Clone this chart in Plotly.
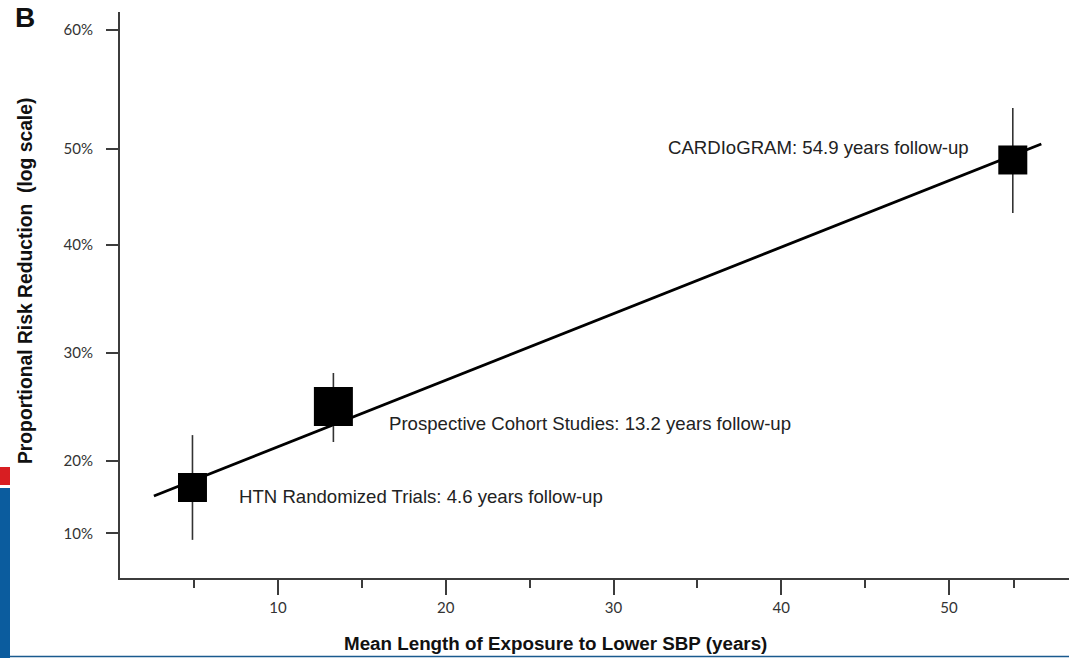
import plotly.graph_objects as go

# ---- data ----
studies = ["HTN Randomized Trials", "Prospective Cohort Studies", "CARDIoGRAM"]
follow_up_label = ["4.6", "13.2", "54.9"]
exposure_years = [4.9, 13.3, 53.8]          # x position of squares
risk_reduction = [17.55, 25.05, 47.87]      # y (axis units)
ci_low = [12.7, 21.76, 42.96]
ci_high = [22.4, 28.15, 52.69]
marker_sizes = [29, 39, 29]

fit_x = [2.6, 55.5]
fit_y = [16.76, 49.35]

y_tick_pos = [13.3, 20, 30, 40, 48.9, 59.9]
y_tick_text = ["10%", "20%", "30%", "40%", "50%", "60%"]
x_tick_vals = [10, 20, 30, 40, 50]
x_minor_vals = [5, 15, 25, 35, 45, 53.9]

label_x = [7.55, 16.5, 33.1]
label_y = [16.76, 23.5, 48.98]

AX = "#3c3c3c"

fig = go.Figure()

fig.add_trace(go.Scatter(
    x=fit_x, y=fit_y, mode="lines",
    line=dict(color="black", width=2.8), hoverinfo="skip", showlegend=False))

fig.add_trace(go.Scatter(
    x=exposure_years, y=risk_reduction, mode="markers",
    marker=dict(symbol="square", size=marker_sizes, color="black", opacity=1,
                line=dict(width=0)),
    error_y=dict(type="data", symmetric=False,
                 array=[h - v for h, v in zip(ci_high, risk_reduction)],
                 arrayminus=[v - l for l, v in zip(ci_low, risk_reduction)],
                 color="#333333", thickness=1.6, width=0),
    showlegend=False))

annotations = []
for name, fu, lx, ly in zip(studies, follow_up_label, label_x, label_y):
    annotations.append(dict(
        x=lx, y=ly, xref="x", yref="y", xanchor="left", yanchor="middle",
        text=f"{name}: {fu} years follow-up", showarrow=False,
        font=dict(family="Liberation Sans, Arial", size=18.6, color="#222222")))

annotations += [
    dict(x=-0.1128, y=(578 - 0) / 566, xref="paper", yref="paper", xanchor="left", yanchor="top",
         text="<b>B</b>", showarrow=False,
         font=dict(family="Liberation Sans, Arial", size=28, color="#111111")),
    dict(x=-0.1001, y=0.5247, xref="paper", yref="paper", xanchor="center", yanchor="middle",
         text="<b>Proportional Risk Reduction \u00a0(log scale)</b>", textangle=-90,
         showarrow=False,
         font=dict(family="Liberation Sans, Arial", size=19.3, color="#111111")),
    dict(x=0.4594, y=-0.1166, xref="paper", yref="paper", xanchor="center", yanchor="middle",
         text="<b>Mean Length of Exposure to Lower SBP (years)</b>", showarrow=False,
         font=dict(family="Liberation Sans, Arial", size=18.8, color="#111111")),
]

shapes = [
    dict(type="rect", xref="paper", yref="paper",
         x0=(0 - 120) / 949, x1=(10 - 120) / 949,
         y0=(578 - 485) / 566, y1=(578 - 467) / 566,
         fillcolor="#d81e22", line=dict(width=0), layer="above"),
    dict(type="rect", xref="paper", yref="paper",
         x0=(0 - 120) / 949, x1=(10 - 120) / 949,
         y0=(578 - 660) / 566, y1=(578 - 488) / 566,
         fillcolor="#0b5c9e", line=dict(width=0), layer="above"),
    dict(type="line", xref="paper", yref="paper",
         x0=(10 - 120) / 949, x1=(1069 - 120) / 949,
         y0=(578 - 656.5) / 566, y1=(578 - 656.5) / 566,
         line=dict(color="#1a5a8e", width=1.5), layer="above"),
]

fig.update_layout(
    width=1069, height=658,
    margin=dict(l=120, r=0, t=12, b=80),
    paper_bgcolor="white", plot_bgcolor="white",
    annotations=annotations, shapes=shapes,
    xaxis=dict(range=[0.58, 57.15], showgrid=False, zeroline=False,
               showline=True, linecolor=AX, linewidth=2,
               tickmode="array", tickvals=x_tick_vals,
               ticks="outside", ticklen=15, tickwidth=2, tickcolor=AX,
               tickfont=dict(family="Lato", size=15, color="#333333"),
               minor=dict(tickmode="array", tickvals=x_minor_vals, ticks="outside",
                          ticklen=8, tickwidth=2, tickcolor=AX, showgrid=False)),
    yaxis=dict(range=[9.17, 61.57], showgrid=False, zeroline=False,
               showline=True, linecolor=AX, linewidth=2,
               tickmode="array", tickvals=y_tick_pos, ticktext=y_tick_text,
               ticks="outside", ticklen=12, tickwidth=2, tickcolor=AX,
               ticklabelstandoff=10,
               tickfont=dict(family="Lato", size=15, color="#333333")),
)

fig.write_html("out.html")
